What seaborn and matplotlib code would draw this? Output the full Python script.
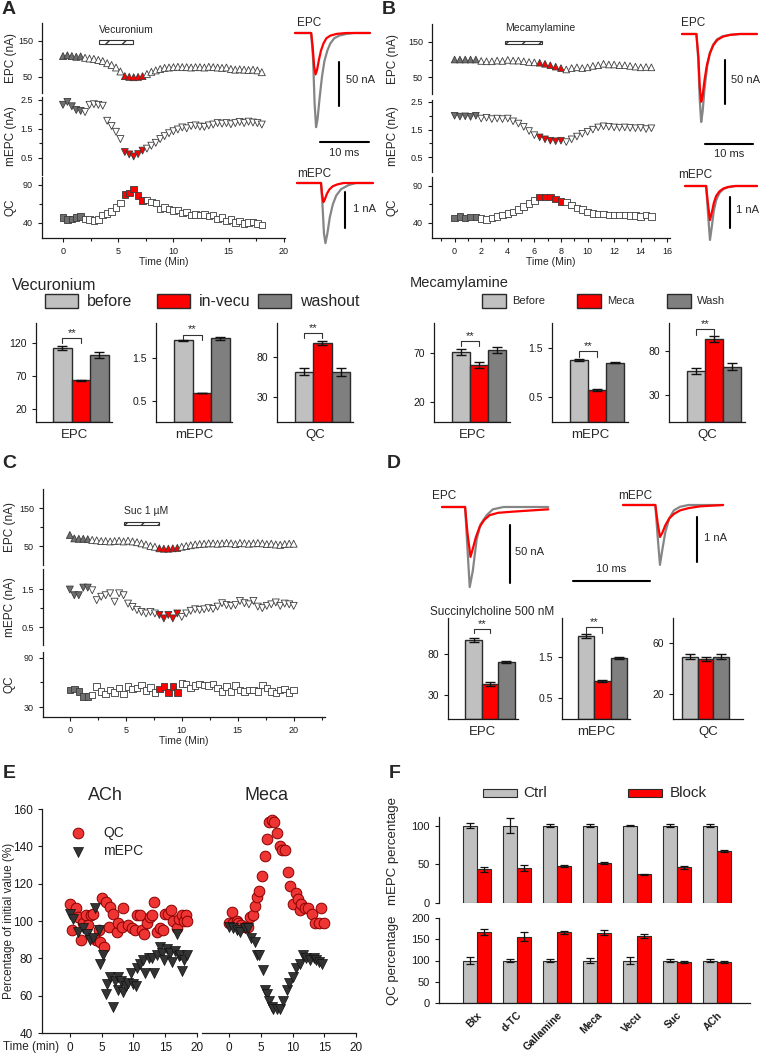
import matplotlib.pyplot as plt
import matplotlib.ticker as ticker
from matplotlib.patches import Rectangle
import seaborn as sns
import pandas as pd
import numpy as np

sns.set_style("ticks")
plt.rcParams.update({
    "font.family": ["Liberation Sans", "DejaVu Sans"],
    "axes.facecolor": "none",
    "axes.linewidth": 0.9,
    "axes.edgecolor": "#1a1a1a",
    "xtick.color": "#1a1a1a",
    "ytick.color": "#1a1a1a",
    "xtick.major.size": 3,
    "ytick.major.size": 3,
    "xtick.minor.size": 2,
    "ytick.minor.size": 2,
    "xtick.major.width": 0.8,
    "ytick.major.width": 0.8,
    "xtick.minor.width": 0.8,
    "ytick.minor.width": 0.8,
})

W, H = 760, 1056
LIGHT, DARK, RED, EDGE = "#c0c0c0", "#7f7f7f", "#ff0000", "#2a2a2a"
PHASE_COLORS = {"before": "#6f6f6f", "drug": RED, "rest": "white"}
BAR_COLORS = {"before": LIGHT, "drug": RED, "wash": DARK}
CONDS = ["before", "drug", "wash"]
DT = 0.4  # min between sweeps

# ---------------- time courses (A, B, C) ----------------
A_epc = [108, 110, 108, 106, 107, 103, 101, 100, 97, 94, 88, 83, 76, 65,
         52, 50, 49, 50, 52, 58, 64, 68, 72, 75, 76, 77, 78, 77, 77, 76, 77,
         77, 76, 78, 77, 76, 75, 76, 72, 70, 71, 70, 69, 70, 68, 63]
A_mepc = [2.33, 2.43, 2.28, 2.15, 2.12, 2.08, 2.33, 2.35, 2.33, 2.3, 1.78,
          1.6, 1.4, 1.15, 0.7, 0.62, 0.55, 0.63, 0.75, 0.82, 0.92, 1.02, 1.15,
          1.25, 1.35, 1.42, 1.48, 1.55, 1.52, 1.6, 1.62, 1.58, 1.57, 1.62,
          1.65, 1.7, 1.68, 1.7, 1.66, 1.7, 1.74, 1.7, 1.75, 1.72, 1.7, 1.65]
A_qc = [47, 44, 45, 47, 48, 45, 44, 43, 44, 50, 52, 55, 60, 66, 77, 79, 84,
        76, 69, 70, 67, 66, 58, 60, 58, 56, 57, 53, 54, 50, 51, 50, 51, 49,
        50, 45, 47, 42, 44, 40, 42, 39, 40, 41, 39, 37]
A_before, A_drug = 5, (14, 19)

B_epc = [100, 100, 100, 100, 100, 96, 95, 95, 97, 96, 99, 97, 97, 95, 93, 92,
         91, 88, 84, 80, 76, 72, 76, 78, 76, 78, 82, 84, 88, 86, 86, 84, 84,
         82, 80, 78, 79, 78]
B_mepc = [2.0, 1.97, 1.98, 1.96, 2.0, 1.9, 1.93, 1.88, 1.9, 1.88, 1.9, 1.8,
          1.72, 1.6, 1.45, 1.3, 1.22, 1.15, 1.1, 1.08, 1.1, 1.05, 1.15, 1.25,
          1.35, 1.42, 1.5, 1.58, 1.62, 1.6, 1.58, 1.57, 1.58, 1.56, 1.55,
          1.56, 1.52, 1.55]
B_qc = [47, 49, 47, 48, 48, 46, 45, 47, 49, 51, 53, 55, 58, 62, 66, 70, 75,
        75, 75, 72, 69, 68, 64, 60, 58, 55, 53, 52, 52, 51, 51, 51, 51, 50,
        50, 49, 51, 49]
B_before, B_drug = 5, (16, 21)

C_epc = [79, 70, 69, 69, 68, 66, 65, 63, 63, 62, 63, 64, 62, 64, 62, 60, 57,
         54, 50, 48, 44, 43, 43, 44, 45, 48, 50, 52, 54, 55, 56, 57, 57, 56,
         57, 58, 57, 55, 58, 57, 56, 57, 58, 57, 55, 56, 54, 53, 55, 56, 56]
C_mepc = [1.49, 1.34, 1.34, 1.54, 1.54, 1.47, 1.21, 1.3, 1.34, 1.39, 1.17,
          1.39, 1.34, 1.12, 1.03, 0.95, 0.9, 0.86, 0.9, 0.86, 0.82, 0.73, 0.82,
          0.73, 0.86, 0.77, 0.86, 0.93, 0.97, 0.95, 0.97, 1.0, 0.98, 1.04,
          1.13, 1.08, 1.06, 1.08, 1.19, 1.13, 1.1, 1.19, 1.04, 1.0, 1.06, 1.1,
          1.15, 1.06, 1.12, 1.1, 1.06]
C_qc = [51, 52, 49, 43, 43, 45, 55, 49, 46, 51, 48, 53, 46, 55, 52, 53, 57,
        50, 54, 48, 52, 55, 48, 55, 48, 59, 58, 53, 56, 58, 57, 56, 58, 53,
        49, 55, 49, 56, 51, 49, 51, 51, 49, 57, 53, 49, 47, 51, 52, 48, 51]
C_before, C_drug = 5, (20, 25)

# ---------------- summary bars (before / drug / wash) ----------------
A_bar_epc, A_err_epc = [111.5, 63, 101.4], [3, 1.2, 4.5]
A_bar_mepc, A_err_mepc = [1.91, 0.68, 1.96], [0.02, 0.01, 0.04]
A_bar_qc, A_err_qc = [61.7, 96.3, 61], [4, 2.5, 4.5]
B_bar_epc, B_err_epc = [71, 58, 73], [3, 3, 3]
B_bar_mepc, B_err_mepc = [1.26, 0.65, 1.2], [0.02, 0.02, 0.01]
B_bar_qc, B_err_qc = [57.5, 93, 62], [3.5, 3, 4]
D_bar_epc, D_err_epc = [97, 43, 70], [3, 2.5, 1.5]
D_bar_mepc, D_err_mepc = [2.0, 0.92, 1.46], [0.05, 0.03, 0.02]
D_bar_qc, D_err_qc = [49.4, 47.8, 49.4], [2, 1.5, 2]

# ---------------- example traces (ms, nA from baseline) ----------------
A_epc_t_ctrl = [0, 3.3, 3.7, 4.0, 4.3, 4.6, 5.0, 5.5, 6.0, 6.6, 7.2, 8.0, 9.0, 10.5, 12.0, 15.3]
A_epc_i_ctrl = [0, 0, -30, -80, -107, -98, -75, -50, -32, -20, -12, -6, -3, -1, 0, 0]
A_epc_t_drug = [0, 3.3, 3.6, 3.9, 4.2, 4.5, 4.9, 5.3, 5.8, 6.4, 7.2, 8.5, 10.5, 15.3]
A_epc_i_drug = [0, 0, -15, -38, -47, -42, -30, -20, -12, -6, -3, -1, 0, 0]
A_mepc_t_ctrl = [0, 4.9, 5.2, 5.5, 5.8, 6.2, 6.7, 7.3, 8.0, 9.0, 10.5, 12.0, 15.5]
A_mepc_i_ctrl = [0, 0, -0.6, -1.4, -1.67, -1.4, -0.95, -0.6, -0.35, -0.17, -0.06, 0, 0]
A_mepc_t_drug = [0, 4.9, 5.1, 5.4, 5.7, 6.1, 6.6, 7.3, 8.2, 9.5, 15.5]
A_mepc_i_drug = [0, 0, -0.3, -0.53, -0.45, -0.3, -0.18, -0.09, -0.04, 0, 0]

B_epc_t = [0, 3.0, 3.4, 3.7, 4.0, 4.3, 4.7, 5.2, 5.8, 6.5, 7.3, 8.5, 10, 12, 15.6]
B_epc_i_ctrl = [0, 0, -30, -75, -100, -88, -62, -38, -22, -12, -6, -2.5, -1, 0, 0]
B_epc_i_drug = [0, 0, -25, -60, -77, -70, -52, -35, -22, -13, -7, -3, -1, 0, 0]
B_mepc_t = [0, 4.4, 4.8, 5.2, 5.6, 6.0, 6.5, 7.2, 8.0, 9.0, 10.5, 15.0]
B_mepc_i_ctrl = [0, 0, -0.9, -1.74, -1.3, -0.8, -0.45, -0.22, -0.1, -0.04, 0, 0]
B_mepc_i_drug = [0, 0, -0.6, -1.1, -0.85, -0.55, -0.32, -0.17, -0.08, -0.03, 0, 0]

D_epc_t_ctrl = [0, 3.0, 3.3, 3.6, 4.0, 4.5, 5.0, 5.8, 6.6, 8.0, 13.8]
D_epc_i_ctrl = [0, 0, -35, -69, -55, -28, -15, -7, -2, 0, 0]
D_epc_t_drug = [0, 3.0, 3.3, 3.7, 4.0, 4.4, 4.9, 5.5, 6.2, 7.3, 9.2, 11.5, 13.8]
D_epc_i_drug = [0, 0, -22, -43, -36, -26, -17, -11, -7, -5, -4, -3, -2]
D_mepc_t_ctrl = [0, 4.2, 4.5, 4.8, 5.1, 5.5, 6.0, 6.6, 7.4, 8.5, 13.0]
D_mepc_i_ctrl = [0, 0, -0.7, -1.33, -1.0, -0.6, -0.3, -0.12, -0.04, 0, 0]
D_mepc_t_drug = [0, 4.2, 4.5, 4.8, 5.1, 5.5, 6.0, 6.6, 7.4, 8.5, 10.0, 13.0]
D_mepc_i_drug = [0, 0, -0.4, -0.71, -0.62, -0.45, -0.3, -0.2, -0.12, -0.07, -0.03, 0]

# ---------------- E: percentage of initial value ----------------
E_ach_qc_t = [0.0, 0.4, 0.9, 1.3, 1.7, 2.1, 2.5, 2.9, 3.3, 3.7, 4.1, 4.5, 4.7, 5.3,
              5.0, 5.7, 6.3, 6.7, 6.1, 7.4, 7.6, 8.4, 8.2, 9.2, 9.7, 10.3, 10.5,
              11.1, 11.3, 11.6, 12.1, 12.6, 12.9, 13.3, 13.7, 14.2, 14.7, 15.0,
              15.5, 15.9, 16.3, 16.8, 17.1, 17.6, 17.9, 18.2, 18.4]
E_ach_qc_v = [109, 95, 107, 102, 90, 99, 103, 98, 103, 104, 90, 95, 89, 86,
              112.5, 110, 107.5, 104, 97, 94, 99, 107, 97, 98, 96, 95, 103,
              103, 95, 93, 99, 102, 103, 110, 94, 96, 95, 104, 104, 106, 100,
              96, 101, 103, 100, 103, 100]
E_ach_mepc_t = [0.0, 0.5, 1.3, 2.1, 2.7, 3.2, 3.7, 3.9, 4.5, 4.7, 5.2, 5.7, 5.9,
                6.3, 6.8, 7.1, 7.5, 7.6, 8.0, 8.4, 8.9, 9.2, 9.6, 10.0, 10.4,
                10.6, 11.1, 11.5, 11.8, 12.4, 12.9, 13.3, 13.7, 14.1, 14.5, 14.8,
                15.3, 15.8, 16.1, 16.6, 16.8, 17.1, 17.4, 17.6, 17.9, 18.4]
E_ach_mepc_v = [104, 101, 94, 96, 93, 90, 91, 107, 95, 77, 82, 61, 66, 70, 54,
                68, 63, 70, 68, 62, 65, 67, 72, 66, 65, 75, 77, 79, 72, 80, 80,
                72, 82, 86, 83, 79, 85, 83, 78, 84, 93, 81, 82, 73, 79, 82]
E_meca_qc_t = [0.0, 0.4, 0.6, 1.2, 1.4, 1.9, 2.5, 3.0, 3.3, 3.7, 4.1, 4.3, 4.7,
               5.1, 5.6, 5.9, 6.3, 6.7, 7.1, 7.5, 8.0, 8.4, 8.8, 9.2, 9.6, 10.0,
               10.5, 10.9, 11.2, 11.4, 11.9, 12.5, 13.0, 13.5, 14.1, 14.4, 14.9]
E_meca_qc_v = [99, 105, 99, 100, 99, 98, 97, 97, 102, 103, 108, 113, 116, 124,
               135, 144, 153, 154, 153, 147, 140, 138, 138, 126, 119, 109, 115,
               112, 106, 109, 107, 107, 104, 99, 99, 107, 99]
E_meca_mepc_t = [0.0, 0.6, 1.3, 1.7, 2.5, 3.0, 3.5, 4.1, 4.3, 4.7, 5.3, 5.6, 5.9,
                 6.3, 6.7, 6.9, 7.5, 8.0, 8.5, 9.1, 9.5, 10.0, 10.5, 11.2, 11.7,
                 12.1, 12.7, 13.3, 13.7, 14.2, 14.6]
E_meca_mepc_v = [97, 96, 95, 94, 96, 96, 91, 89, 82, 82, 74, 63, 61, 57, 54,
                 53, 53, 53, 57, 63, 67, 70, 75, 77, 82, 80, 79, 80, 79, 78, 77]

# ---------------- F: percentage, control vs block ----------------
F_drugs = ["Btx", "d-TC", "Gallamine", "Meca", "Vecu", "Suc", "ACh"]
F_mepc_ctrl = [100, 100, 100, 100, 100, 100, 100]
F_mepc_ctrl_err = [3, 10, 2, 2, 1, 2, 2]
F_mepc_block = [43.5, 45, 48, 52, 37, 46, 67]
F_mepc_block_err = [3, 4, 1.5, 1.5, 0.5, 1.5, 1]
F_qc_ctrl = [100, 100, 100, 100, 100, 100, 100]
F_qc_ctrl_err = [9, 4, 4, 7, 9, 4, 4]
F_qc_block = [167, 156, 166, 165, 157, 97, 97]
F_qc_block_err = [7, 10, 3, 6, 5, 3, 2]

# =================================================================
fig = plt.figure(figsize=(W / 100, H / 100), dpi=100)
bg = fig.add_axes([0, 0, 1, 1], zorder=-1)
bg.set_xlim(0, W)
bg.set_ylim(H, 0)
bg.axis("off")


def box(x0, y0, x1, y1):
    # axes placed in pixel coords, origin top-left
    return fig.add_axes([x0 / W, 1 - y1 / H, (x1 - x0) / W, (y1 - y0) / H])


def txt(x, y, s, size=8, **kw):
    bg.text(x, y, s, fontsize=size, va="center", **kw)


def swatch(x0, y0, x1, y1, color, lw=1.0):
    bg.add_patch(Rectangle((x0, y0), x1 - x0, y1 - y0, facecolor=color,
                           edgecolor=EDGE, lw=lw))


def phases(n, n_before, drug):
    ph = ["rest"] * n
    ph[:n_before] = ["before"] * n_before
    ph[drug[0]:drug[1]] = ["drug"] * (drug[1] - drug[0])
    return ph


def ts_row(rect, values, marker, size, n_before, drug, xlim, ylim, yticks,
           yminor, ylabel, ylab_x, bottom=False):
    ax = box(*rect)
    df = pd.DataFrame({"Time (Min)": np.arange(len(values)) * DT,
                       "value": values,
                       "phase": phases(len(values), n_before, drug)})
    sns.scatterplot(data=df, x="Time (Min)", y="value", hue="phase",
                    palette=PHASE_COLORS, marker=marker, s=size,
                    edgecolor="#3c3c3c", linewidth=0.6, legend=False, ax=ax,
                    zorder=3)
    ax.set_xlim(xlim)
    ax.set_ylim(ylim)
    ax.set_yticks(yticks)
    ax.yaxis.set_minor_locator(ticker.FixedLocator(yminor))
    ax.set_ylabel(ylabel, fontsize=8.5)
    ax.yaxis.set_label_coords(ylab_x, 0.5)
    ax.tick_params(labelsize=6.5)
    sns.despine(ax=ax, bottom=not bottom)
    if not bottom:
        ax.set_xticks([])
        ax.set_xlabel("")
    else:
        ax.set_xlabel("Time (Min)", fontsize=7.5, labelpad=1)
    return ax


def drug_bar(ax, t0, t1, y0, y1, name, ty):
    ax.add_patch(Rectangle((t0, y0), t1 - t0, y1 - y0, facecolor="white",
                           edgecolor="#333333", hatch="//", lw=0.8, zorder=2))
    ax.text(t0, ty, name, fontsize=7.5, va="center", ha="left")


def bar_chart(rect, vals, errs, xlim, ylim, yticks, name, sig=None):
    ax = box(*rect)
    df = pd.DataFrame({"cond": CONDS, "val": vals})
    sns.barplot(data=df, x="cond", y="val", hue="cond", palette=BAR_COLORS,
                width=1.0, saturation=1, edgecolor=EDGE, linewidth=1.0,
                legend=False, ax=ax)
    ax.errorbar(range(3), vals, yerr=errs, fmt="none", ecolor="#111111",
                elinewidth=1, capsize=3.5, capthick=1, zorder=4)
    ax.set_xlim(xlim)
    ax.set_ylim(ylim)
    ax.set_yticks(yticks)
    ax.set_xticks([])
    ax.set_xlabel(name, fontsize=9.5, labelpad=5)
    ax.set_ylabel("")
    ax.tick_params(labelsize=7.5)
    sns.despine(ax=ax)
    if sig:
        lo, hi = sig
        ax.plot([0, 0, 1, 1], [lo, hi, hi, lo], color="#333333", lw=0.8)
        ax.text(0.5, hi, "**", ha="center", va="bottom", fontsize=8)
    return ax


def trace_box(rect, origin, px_ms, px_na):
    ax = box(*rect)
    x0, y0, x1, y1 = rect
    ox, oy = origin
    ax.set_xlim((x0 - ox) / px_ms, (x1 - ox) / px_ms)
    ax.set_ylim(-(y1 - oy) / px_na, (oy - y0) / px_na)
    ax.axis("off")
    return ax


def traces(ax, tc, ic, td, idr):
    sns.lineplot(x=tc, y=ic, color="#858585", lw=1.6, ax=ax, estimator=None,
                 sort=False)
    sns.lineplot(x=td, y=idr, color=RED, lw=1.6, ax=ax, estimator=None,
                 sort=False)


def vbar(ax, x, y0, y1):
    ax.plot([x, x], [y0, y1], color="black", lw=1.5)


def hbar(ax, x0, x1, y):
    ax.plot([x0, x1], [y, y], color="black", lw=1.5)


# ---------------- panel A ----------------
ax = ts_row((42, 23, 285, 93), A_epc, "^", 25, A_before, A_drug, (-1.9, 20.1),
            (5, 200), [50, 150], [100], "EPC (nA)", -0.103)
drug_bar(ax, 3.3, 6.3, 142, 153, "Vecuronium", 180)
ts_row((42, 97, 285, 175), A_mepc, "v", 25, A_before, A_drug, (-1.9, 20.1),
       (-0.09, 2.6), [0.5, 1.5, 2.5], [1.0, 2.0], "mEPC (nA)", -0.103)
ax = ts_row((42, 177, 285, 238), A_qc, "s", 22, A_before, A_drug, (-1.9, 20.1),
            (20, 100), [40, 90], [65], "QC", -0.103, bottom=True)
ax.xaxis.set_major_locator(ticker.MultipleLocator(5))
ax.xaxis.set_minor_locator(ticker.MultipleLocator(2.5))

ax = trace_box((290, 25, 375, 160), (295, 33), 4.9, 0.88)
traces(ax, A_epc_t_ctrl, A_epc_i_ctrl, A_epc_t_drug, A_epc_i_drug)
vbar(ax, 9.0, -33, -83)
hbar(ax, 5.1, 15.1, -124)
ax = trace_box((290, 170, 375, 250), (297, 183), 4.9, 36)
traces(ax, A_mepc_t_ctrl, A_mepc_i_ctrl, A_mepc_t_drug, A_mepc_i_drug)
vbar(ax, 9.8, -0.25, -1.25)
txt(297, 23, "EPC", 8.5)
txt(346, 80, "50 nA", 8)
txt(344, 153, "10 ms", 8, ha="center")
txt(297, 174, "mEPC", 8.5)
txt(353, 209, "1 nA", 8)

# ---------------- panel B ----------------
ax = ts_row((432, 24, 670, 94), B_epc, "^", 23, B_before, B_drug, (-1.7, 16.2),
            (3, 200), [50, 150], [100], "EPC (nA)", -0.139)
drug_bar(ax, 3.8, 6.6, 144, 153, "Mecamylamine", 189)
ts_row((432, 100, 670, 172), B_mepc, "v", 23, B_before, B_drug, (-1.7, 16.2),
       (-0.03, 2.57), [0.5, 1.5, 2.5], [1.0, 2.0], "mEPC (nA)", -0.139)
ax = ts_row((432, 177, 670, 238), B_qc, "s", 22, B_before, B_drug, (-1.7, 16.2),
            (19.7, 102), [40, 90], [65], "QC", -0.139, bottom=True)
ax.xaxis.set_major_locator(ticker.MultipleLocator(2))
ax.xaxis.set_minor_locator(ticker.MultipleLocator(1))

ax = trace_box((675, 25, 760, 160), (682, 34), 4.8, 0.88)
traces(ax, B_epc_t, B_epc_i_ctrl, B_epc_t, B_epc_i_drug)
vbar(ax, 9.0, -29.5, -79.5)
hbar(ax, 4.8, 14.8, -125)
ax = trace_box((675, 178, 760, 250), (685, 186), 4.8, 31)
traces(ax, B_mepc_t, B_mepc_i_ctrl, B_mepc_t, B_mepc_i_drug)
vbar(ax, 9.4, -0.36, -1.36)
txt(681, 23, "EPC", 8.5)
txt(731, 80, "50 nA", 8)
txt(729, 154, "10 ms", 8, ha="center")
txt(678, 175, "mEPC", 8.5)
txt(736, 210, "1 nA", 8)

# ---------------- summary bars A / B ----------------
txt(12, 285, "Vecuronium", 11.5)
for x0, lab, key in [(45, "before", "before"), (157, "in-vecu", "drug"),
                     (258, "washout", "wash")]:
    swatch(x0, 294, x0 + 33, 308, BAR_COLORS[key])
    txt(x0 + 42, 301, lab, 11.5)
bar_chart((36, 323, 112, 422), A_bar_epc, A_err_epc, (-1.43, 2.68), (0, 150),
          [20, 70, 120], "EPC", sig=(120, 127))
bar_chart((156, 323, 232, 422), A_bar_mepc, A_err_mepc, (-1.46, 2.62),
          (0, 2.32), [0.5, 1.5], "mEPC", sig=(1.93, 2.05))
bar_chart((277, 323, 353, 422), A_bar_qc, A_err_qc, (-1.46, 2.65), (0, 121),
          [30, 80], "QC", sig=(103, 109))

txt(410, 283, "Mecamylamine", 10.5)
for x0, lab, key in [(482, "Before", "before"), (577, "Meca", "drug"),
                     (667, "Wash", "wash")]:
    swatch(x0, 294, x0 + 24, 308, BAR_COLORS[key])
    txt(x0 + 30, 301, lab, 8)
bar_chart((434, 323, 510, 422), B_bar_epc, B_err_epc, (-1.5, 2.72), (0, 100),
          [20, 70], "EPC", sig=(76.6, 82))
bar_chart((552, 323, 628, 422), B_bar_mepc, B_err_mepc, (-1.5, 2.72), (0, 2.0),
          [0.5, 1.5], "mEPC", sig=(1.32, 1.43))
bar_chart((669, 323, 745, 422), B_bar_qc, B_err_qc, (-1.5, 2.72), (0, 111),
          [30, 80], "QC", sig=(98, 104))

# ---------------- panel C ----------------
ax = ts_row((43, 489, 325, 565), C_epc, "^", 25, C_before, C_drug, (-2.4, 22.8),
            (0, 200), [50, 150], [100], "EPC (nA)", -0.096)
drug_bar(ax, 4.8, 8.0, 105, 113, "Suc 1 µM", 142)
ts_row((43, 569, 325, 645), C_mepc, "v", 25, C_before, C_drug, (-2.4, 22.8),
       (0.03, 2.03), [0.5, 1.5], [1.0], "mEPC (nA)", -0.096)
ax = ts_row((43, 652, 325, 717), C_qc, "s", 22, C_before, C_drug, (-2.4, 22.8),
            (18, 97), [30, 90], [60], "QC", -0.096, bottom=True)
ax.xaxis.set_major_locator(ticker.MultipleLocator(5))
ax.xaxis.set_minor_locator(ticker.MultipleLocator(2.5))

# ---------------- panel D ----------------
ax = trace_box((435, 495, 655, 600), (442, 507), 7.7, 1.16)
traces(ax, D_epc_t_ctrl, D_epc_i_ctrl, D_epc_t_drug, D_epc_i_drug)
vbar(ax, 8.8, -15.5, -65.5)
hbar(ax, 17.0, 27.0, -63.8)
ax = trace_box((615, 495, 745, 600), (623, 505), 7.7, 45)
traces(ax, D_mepc_t_ctrl, D_mepc_i_ctrl, D_mepc_t_drug, D_mepc_i_drug)
vbar(ax, 9.6, -0.27, -1.27)
txt(432, 496, "EPC", 8.5)
txt(515, 552, "50 nA", 8)
txt(618, 496, "mEPC", 8.5)
txt(704, 538, "1 nA", 8)
txt(611, 569, "10 ms", 8, ha="center")

txt(430, 612, "Succinylcholine 500 nM", 8.5)
bar_chart((448, 618, 518, 719), D_bar_epc, D_err_epc, (-1.55, 2.7), (0, 124),
          [30, 80], "EPC", sig=(105, 111))
bar_chart((562, 618, 630, 719), D_bar_mepc, D_err_mepc, (-1.45, 2.67),
          (0, 2.43), [0.5, 1.5], "mEPC", sig=(2.06, 2.22))
bar_chart((673, 618, 743, 719), D_bar_qc, D_err_qc, (-1.08, 3.38), (0, 80),
          [20, 60], "QC")

# ---------------- panel E ----------------
axE1 = box(42, 809, 197, 1033)
axE2 = box(202, 809, 356, 1033)
for axe, tq, vq, tm, vm in [(axE1, E_ach_qc_t, E_ach_qc_v, E_ach_mepc_t, E_ach_mepc_v),
                            (axE2, E_meca_qc_t, E_meca_qc_v, E_meca_mepc_t, E_meca_mepc_v)]:
    sns.scatterplot(x=tq, y=vq, color="#ef3434", edgecolor="#8a0000", s=59,
                    linewidth=0.7, marker="o", label="QC", ax=axe, zorder=3)
    sns.scatterplot(x=tm, y=vm, color="#333333", edgecolor="#111111", s=52,
                    linewidth=0.5, marker="v", label="mEPC", ax=axe, zorder=3)
    axe.set_ylim(40, 160)
    axe.set_xticks([0, 5, 10, 15, 20])
    axe.tick_params(labelsize=8.5)
    if axe.get_legend():
        axe.get_legend().remove()
axE1.set_xlim(-4.4, 20)
axE2.set_xlim(-4.3, 20)
axE1.set_yticks(range(40, 161, 20))
axE1.set_ylabel("Percentage of initial value (%)", fontsize=8.5)
axE1.yaxis.set_label_coords(-0.175, 0.5)
sns.despine(ax=axE1)
sns.despine(ax=axE2, left=True)
axE2.set_yticks([])
axE1.legend(loc="upper left", bbox_to_anchor=(0.142, 0.924), frameon=False,
            fontsize=10, handlelength=2, handletextpad=0.8, labelspacing=0.3,
            borderpad=0, borderaxespad=0)
txt(105, 795, "ACh", 13, ha="center")
txt(267, 795, "Meca", 13, ha="center")
txt(3, 1047, "Time (min)", 8.5)

# ---------------- panel F ----------------
def f_bars(ax, ctrl, ctrl_err, block, block_err):
    df = pd.DataFrame({"drug": F_drugs * 2,
                       "cond": ["Ctrl"] * len(F_drugs) + ["Block"] * len(F_drugs),
                       "val": ctrl + block})
    sns.barplot(data=df, x="drug", y="val", hue="cond",
                palette={"Ctrl": LIGHT, "Block": RED}, width=0.7, saturation=1,
                edgecolor=EDGE, linewidth=0.8, legend=False, ax=ax)
    pos = np.arange(len(F_drugs))
    ax.errorbar(pos - 0.175, ctrl, yerr=ctrl_err, fmt="none", ecolor="#111111",
                elinewidth=0.9, capsize=3, capthick=0.9, zorder=4)
    ax.errorbar(pos + 0.175, block, yerr=block_err, fmt="none", ecolor="#111111",
                elinewidth=0.9, capsize=3, capthick=0.9, zorder=4)
    ax.set_xlim(-0.95, 6.83)
    ax.tick_params(labelsize=8)


axF1 = box(439, 817, 750, 903)
f_bars(axF1, F_mepc_ctrl, F_mepc_ctrl_err, F_mepc_block, F_mepc_block_err)
axF1.set_ylim(0, 111)
axF1.set_yticks([0, 50, 100])
axF1.set_xticks([])
axF1.set_xlabel("")
axF1.set_ylabel("mEPC percentage", fontsize=9.5)
axF1.yaxis.set_label_coords(-0.128, 0.6)
sns.despine(ax=axF1, bottom=True)

axF2 = box(439, 918, 750, 1003)
f_bars(axF2, F_qc_ctrl, F_qc_ctrl_err, F_qc_block, F_qc_block_err)
axF2.set_ylim(0, 200)
axF2.set_yticks([0, 50, 100, 150, 200])
axF2.set_xlabel("")
axF2.set_ylabel("QC percentage", fontsize=9.5)
axF2.yaxis.set_label_coords(-0.128, 0.5)
axF2.tick_params(axis="x", length=0, pad=5, labelsize=7.5)
for lab in axF2.get_xticklabels():
    lab.set_rotation(45)
    lab.set_ha("right")
    lab.set_rotation_mode("anchor")
    lab.set_fontweight("bold")
sns.despine(ax=axF2)

swatch(483, 789, 517, 797, LIGHT, lw=0.8)
txt(523, 793, "Ctrl", 11)
swatch(628, 789, 662, 797, RED, lw=0.8)
txt(670, 793, "Block", 11)

# ---------------- panel letters ----------------
for x, y, s in [(2, 9, "A"), (382, 9, "B"), (2, 463, "C"), (387, 464, "D"),
                (3, 774, "E"), (389, 774, "F")]:
    txt(x, y, s, 14, fontweight="bold")

fig.savefig("out.png", dpi=100)
